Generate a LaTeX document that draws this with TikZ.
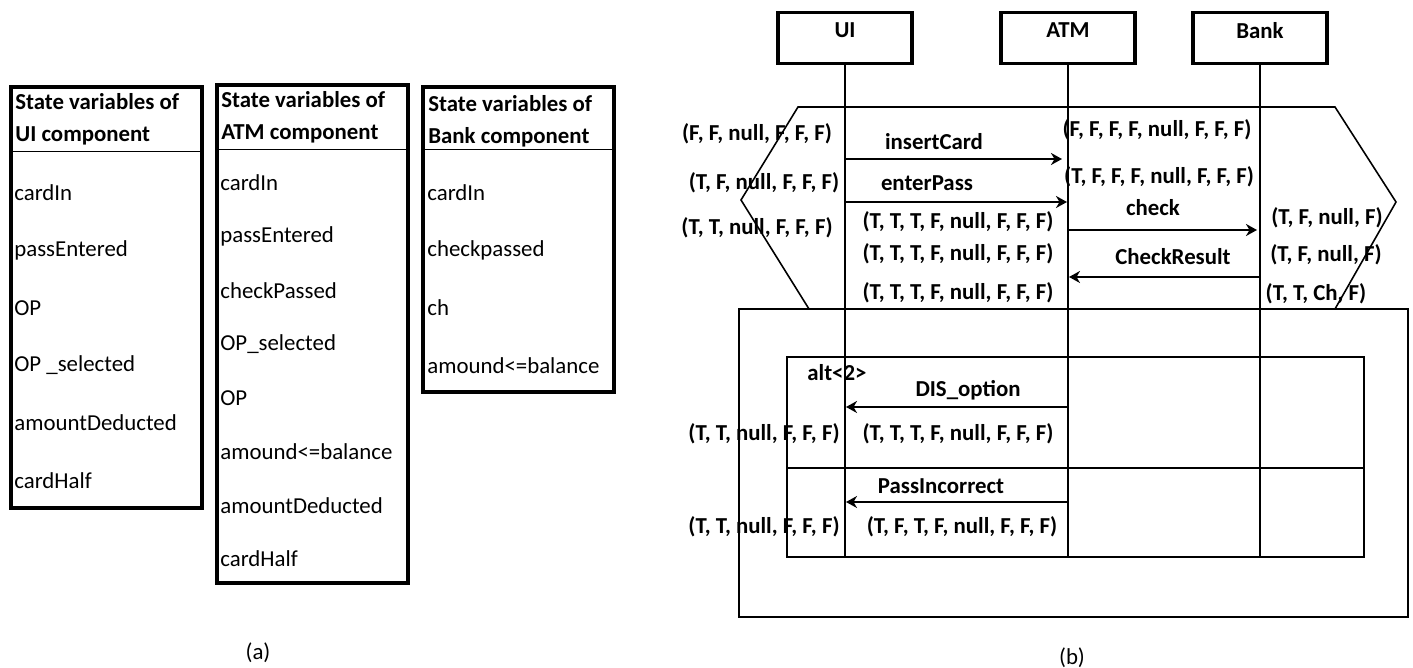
\documentclass[tikz,border=0pt]{standalone}
\usepackage{fontspec}
\setmainfont{Carlito}
\usetikzlibrary{arrows.meta}
\newcommand{\dfont}{\fontsize{13}{18}\selectfont}

\begin{document}
\begin{tikzpicture}[x=0.02cm,y=-0.02cm,
  varbox/.style={line width=2.3pt},
  headtxt/.style={anchor=west,align=left,inner sep=0pt,font=\dfont\bfseries},
  item/.style={anchor=west,inner sep=0pt,font=\dfont},
  lifebox/.style={draw,line width=2pt,minimum width=2.68cm,minimum height=1.02cm,
    text depth=0.3cm,inner sep=0pt,font=\dfont\bfseries},
  lifeline/.style={line width=0.8pt},
  frame/.style={line width=0.9pt},
  msg/.style={line width=1.1pt,-{Stealth[length=2.2mm,width=2.4mm,inset=0.7mm]}},
  lbl/.style={inner sep=0pt,font=\dfont\bfseries}]
  \useasboundingbox (0,0) rectangle (1413,668);

  % (a) state variables
  \draw[varbox] (11,87) rectangle (202,508);
  \draw (11,151) -- (202,151);
  \node[headtxt] (uihead) at (15,119) {State variables of\\UI component};
  \foreach \t [count=\i] in {cardIn,passEntered,OP,OP \_selected,amountDeducted,cardHalf}
    \node[item] (uivar\i) at (14,193+57.5*\i-57.5) {\t};

  \draw[varbox] (217,85) rectangle (408,583);
  \draw (217,149) -- (408,149);
  \node[headtxt] (atmhead) at (221,117) {State variables of\\ATM component};
  \foreach \t [count=\i] in {cardIn,passEntered,checkPassed,OP\_selected,OP,amound<=balance,amountDeducted,cardHalf}
    \node[item] (atmvar\i) at (220,183+53.7*\i-53.7) {\t};

  \draw[varbox] (423,87) rectangle (614,392);
  \draw (423,149) -- (614,149);
  \node[headtxt] (bankhead) at (428,121) {State variables of\\Bank component};
  \foreach \t [count=\i] in {cardIn,checkpassed,ch,amound<=balance}
    \node[item] (bankvar\i) at (427,193+57.5*\i-57.5) {\t};

  \node[item,anchor=center] (capa) at (258,653) {(a)};

  % (b) sequence diagram
  \node[lifebox] (ui) at (845,38) {UI};
  \node[lifebox] (atm) at (1068,38) {ATM};
  \node[lifebox] (bank) at (1260,38) {Bank};
  \coordinate (uiend) at (845,557);
  \coordinate (atmend) at (1068,557);
  \coordinate (bankend) at (1260,557);
  \draw[lifeline] (ui) -- (uiend);
  \draw[lifeline] (atm) -- (atmend);
  \draw[lifeline] (bank) -- (bankend);

  \draw[frame] (809,309) -- (741,200) -- (798,107) -- (1335,107) -- (1396,202) -- (1335,309);
  \draw[frame] (739,309) rectangle (1408,617);
  \draw[frame] (787,357) rectangle (1364,557);
  \draw[frame] (787,468) -- (1364,468);
  \node[lbl,anchor=west] (alt) at (807,373) {alt<2>};

  % messages
  \coordinate (m1a) at (845,159);  \coordinate (m1b) at (1062,159);
  \coordinate (m2a) at (845,202);  \coordinate (m2b) at (1067,202);
  \coordinate (m3a) at (1068,230); \coordinate (m3b) at (1257,230);
  \coordinate (m4a) at (1260,277); \coordinate (m4b) at (1069,277);
  \coordinate (m5a) at (1068,407); \coordinate (m5b) at (846,407);
  \coordinate (m6a) at (1068,502); \coordinate (m6b) at (846,502);
  \draw[msg] (m1a) -- (m1b);
  \draw[msg] (m2a) -- (m2b);
  \draw[msg] (m3a) -- (m3b);
  \draw[msg] (m4a) -- (m4b);
  \draw[msg] (m5a) -- (m5b);
  \draw[msg] (m6a) -- (m6b);
  \node[lbl] (insertCard) at (934,142) {insertCard};
  \node[lbl] (enterPass) at (927,183) {enterPass};
  \node[lbl] (check) at (1153,208) {check};
  \node[lbl] (checkRes) at (1173,257) {CheckResult};
  \node[lbl] (disOpt) at (968,390) {DIS\_option};
  \node[lbl] (passInc) at (941,486) {PassIncorrect};

  % states
  \node[lbl] (s1) at (757,134) {(F, F, null, F, F, F)};
  \node[lbl] (s2) at (764,183) {(T, F, null, F, F, F)};
  \node[lbl] (s3) at (757,228) {(T, T, null, F, F, F)};
  \node[lbl] (s4) at (764,434) {(T, T, null, F, F, F)};
  \node[lbl] (s5) at (764,527) {(T, T, null, F, F, F)};
  \node[lbl] (a1) at (1157,130) {(F, F, F, F, null, F, F, F)};
  \node[lbl] (a2) at (1159,177) {(T, F, F, F, null, F, F, F)};
  \node[lbl] (a3) at (958,222) {(T, T, T, F, null, F, F, F)};
  \node[lbl] (a4) at (958,254) {(T, T, T, F, null, F, F, F)};
  \node[lbl] (a5) at (958,293) {(T, T, T, F, null, F, F, F)};
  \node[lbl] (a6) at (958,434) {(T, T, T, F, null, F, F, F)};
  \node[lbl] (a7) at (962,527) {(T, F, T, F, null, F, F, F)};
  \node[lbl] (b1) at (1327,218) {(T, F, null, F)};
  \node[lbl] (b2) at (1326,255) {(T, F, null, F)};
  \node[lbl] (b3) at (1316,294) {(T, T, Ch, F)};

  \node[item,anchor=center] (capb) at (1072,658) {(b)};
\end{tikzpicture}
\end{document}
